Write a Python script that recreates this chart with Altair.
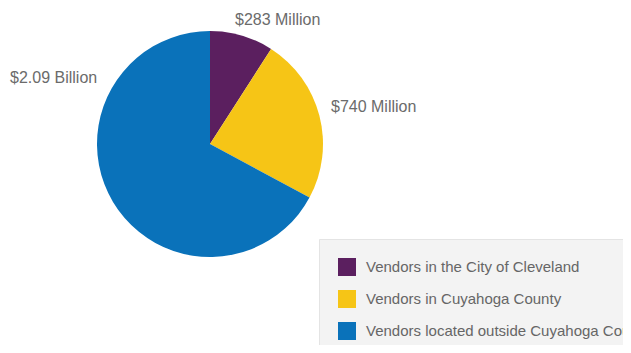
import altair as alt
import pandas as pd

categories = [
    "Vendors in the City of Cleveland",
    "Vendors in Cuyahoga County",
    "Vendors located outside Cuyahoga County",
]
values = [283, 740, 2090]  # $ millions
value_labels = ["$283 Million", "$740 Million", "$2.09 Billion"]
colors = ["#5b1f5f", "#f6c516", "#0a72ba"]

df = pd.DataFrame({
    "category": categories,
    "value": values,
    "label": value_labels,
    "order": list(range(len(categories))),
})

FONT = "Liberation Sans"

pie = alt.Chart(df).mark_arc(outerRadius=113).encode(
    theta=alt.Theta("value:Q", stack=True),
    order=alt.Order("order:Q"),
    color=alt.Color(
        "category:N",
        scale=alt.Scale(domain=categories, range=colors),
        legend=alt.Legend(
            title=None,
            orient="none",
            legendX=311,
            legendY=231,
            padding=19,
            fillColor="#f3f3f3",
            strokeColor="#e4e4e4",
            symbolType="square",
            symbolSize=324,
            symbolStrokeWidth=0,
            symbolOpacity=1,
            labelFont=FONT,
            labelFontSize=15,
            labelColor="#666666",
            labelOffset=10,
            labelLimit=0,
            rowPadding=14,
        ),
    ),
    x=alt.value(202),
    y=alt.value(136),
)

def label_layer(text, x, y):
    return alt.Chart(df).transform_filter(
        alt.datum.label == text
    ).mark_text(
        align="left", baseline="middle", font=FONT, fontSize=16, color="#6b6b6b"
    ).encode(
        text="label:N",
        x=alt.value(x),
        y=alt.value(y),
    )

chart = alt.layer(
    pie,
    label_layer("$283 Million", 227, 11.5),
    label_layer("$740 Million", 323, 98.5),
    label_layer("$2.09 Billion", 2, 70),
).properties(
    width=615,
    height=337,
    padding=0,
    autosize=alt.AutoSizeParams(type="none"),
    background="white",
).configure_view(stroke=None)

chart.save("out.html", embed_options={"renderer": "svg", "actions": False})
